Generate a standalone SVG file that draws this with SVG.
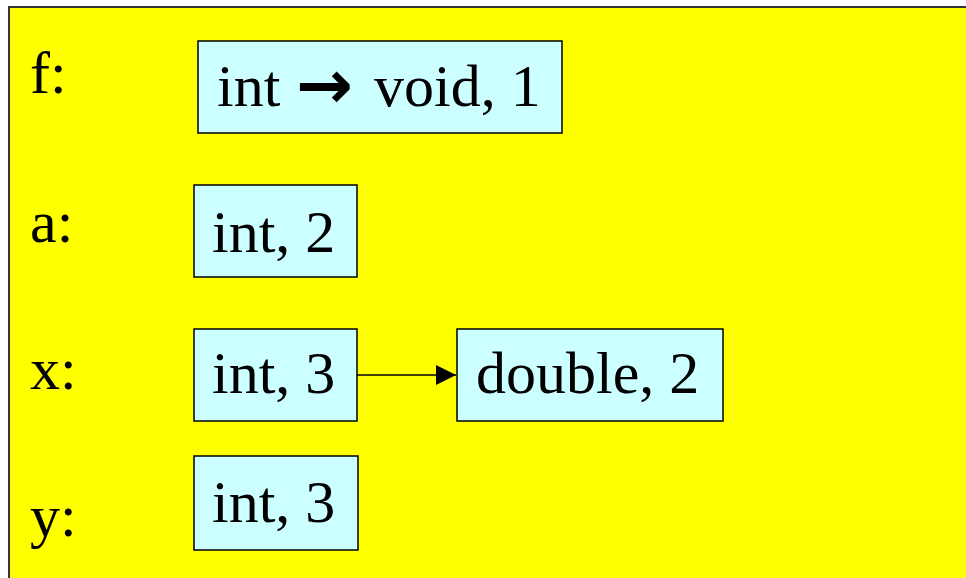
<svg xmlns="http://www.w3.org/2000/svg" width="966" height="578" viewBox="0 0 966 578">
<defs>
<style>
.bg{fill:#FFFF00;stroke:#333333;stroke-width:2}
.box{fill:#CCFFFF;stroke:#000000;stroke-width:1.5}
.t{font-family:"Liberation Serif","Times New Roman",serif;font-size:60px;fill:#000000}
.arr{font-family:"DejaVu Sans",sans-serif;font-weight:bold;font-size:68px}
.edge{stroke:#000000;stroke-width:1.5;fill:none}
</style>
<marker id="ah2" viewBox="0 0 20 20" refX="20" refY="10" markerWidth="20" markerHeight="20" markerUnits="userSpaceOnUse" orient="auto">
<path d="M0,0 L20,10 L0,20 z" fill="#000000"/>
</marker>
</defs>
<rect class="bg" x="9" y="7" width="970" height="590"/>
<g id="label-f"><text class="t" x="30" y="93">f:</text></g>
<g id="label-a"><text class="t" x="30" y="242">a:</text></g>
<g id="label-x"><text class="t" x="30" y="389">x:</text></g>
<g id="label-y"><text class="t" x="30" y="536">y:</text></g>
<g id="node-f">
<rect class="box" x="198" y="41" width="364" height="92"/>
<text class="t" x="217" y="106">int <tspan class="arr" x="296" y="108">→</tspan><tspan x="374" y="106">void, 1</tspan></text>
</g>
<g id="node-a">
<rect class="box" x="194" y="185" width="163" height="92"/>
<text class="t" x="212" y="252">int, 2</text>
</g>
<g id="node-x">
<rect class="box" x="194" y="329" width="163" height="92"/>
<text class="t" x="212" y="393">int, 3</text>
</g>
<g id="node-x2">
<rect class="box" x="457" y="329" width="266" height="92"/>
<text class="t" x="476" y="393">double, 2</text>
</g>
<g id="node-y">
<rect class="box" x="194" y="456" width="164" height="94"/>
<text class="t" x="212" y="522">int, 3</text>
</g>
<g id="connectors">
<line class="edge" x1="357" y1="375" x2="456" y2="375" marker-end="url(#ah2)"/>
</g>
</svg>
